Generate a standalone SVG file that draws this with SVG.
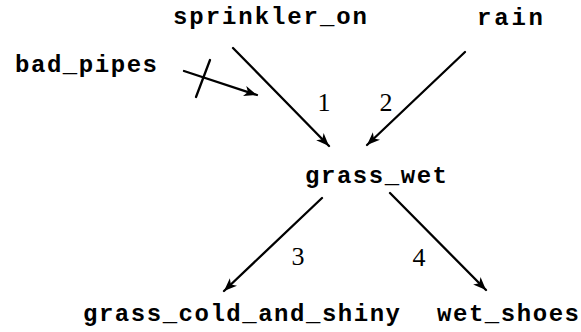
<svg xmlns="http://www.w3.org/2000/svg" width="581" height="332" viewBox="0 0 581 332">
<defs>
<style>
.n{font-family:"Liberation Mono","DejaVu Sans Mono",monospace;font-weight:bold;font-size:24px;fill:#000}
.l{font-family:"Liberation Serif","DejaVu Serif",serif;font-size:26px;fill:#000;text-anchor:middle}
.e{stroke:#000;stroke-width:2.3;fill:none;stroke-linecap:round}
</style>
<marker id="ah" markerUnits="userSpaceOnUse" viewBox="-14 -7 15 14" refX="0" refY="0" markerWidth="15" markerHeight="14" orient="auto">
<path d="M0,0 L-13,-5.2 L-9.5,0 L-13,5.2 Z" fill="#000"/>
</marker>
</defs>
<rect width="581" height="332" fill="#fff"/>
<g id="connectors">
<line class="e" x1="233" y1="48" x2="329" y2="146" marker-end="url(#ah)"/>
<line class="e" x1="465" y1="52" x2="367" y2="145" marker-end="url(#ah)"/>
<line class="e" x1="184" y1="71" x2="257" y2="95" marker-end="url(#ah)"/>
<line class="e" x1="210" y1="60" x2="196" y2="97"/>
<line class="e" x1="322" y1="198" x2="224" y2="291" marker-end="url(#ah)"/>
<line class="e" x1="390" y1="193" x2="486" y2="290" marker-end="url(#ah)"/>
</g>
<g id="labels">
<text class="l" x="324" y="111">1</text>
<text class="l" x="386" y="111">2</text>
<text class="l" x="298" y="265">3</text>
<text class="l" x="419" y="266">4</text>
</g>
<g id="sprinkler_on"><text class="n" x="173" y="24" textLength="194" lengthAdjust="spacing">sprinkler_on</text></g>
<g id="rain"><text class="n" x="477" y="25" textLength="66" lengthAdjust="spacing">rain</text></g>
<g id="bad_pipes"><text class="n" x="15" y="72" textLength="142" lengthAdjust="spacing">bad_pipes</text></g>
<g id="grass_wet"><text class="n" x="305" y="183" textLength="142" lengthAdjust="spacing">grass_wet</text></g>
<g id="grass_cold_and_shiny"><text class="n" x="83" y="321" textLength="317" lengthAdjust="spacing">grass_cold_and_shiny</text></g>
<g id="wet_shoes"><text class="n" x="437" y="321" textLength="142" lengthAdjust="spacing">wet_shoes</text></g>
</svg>
